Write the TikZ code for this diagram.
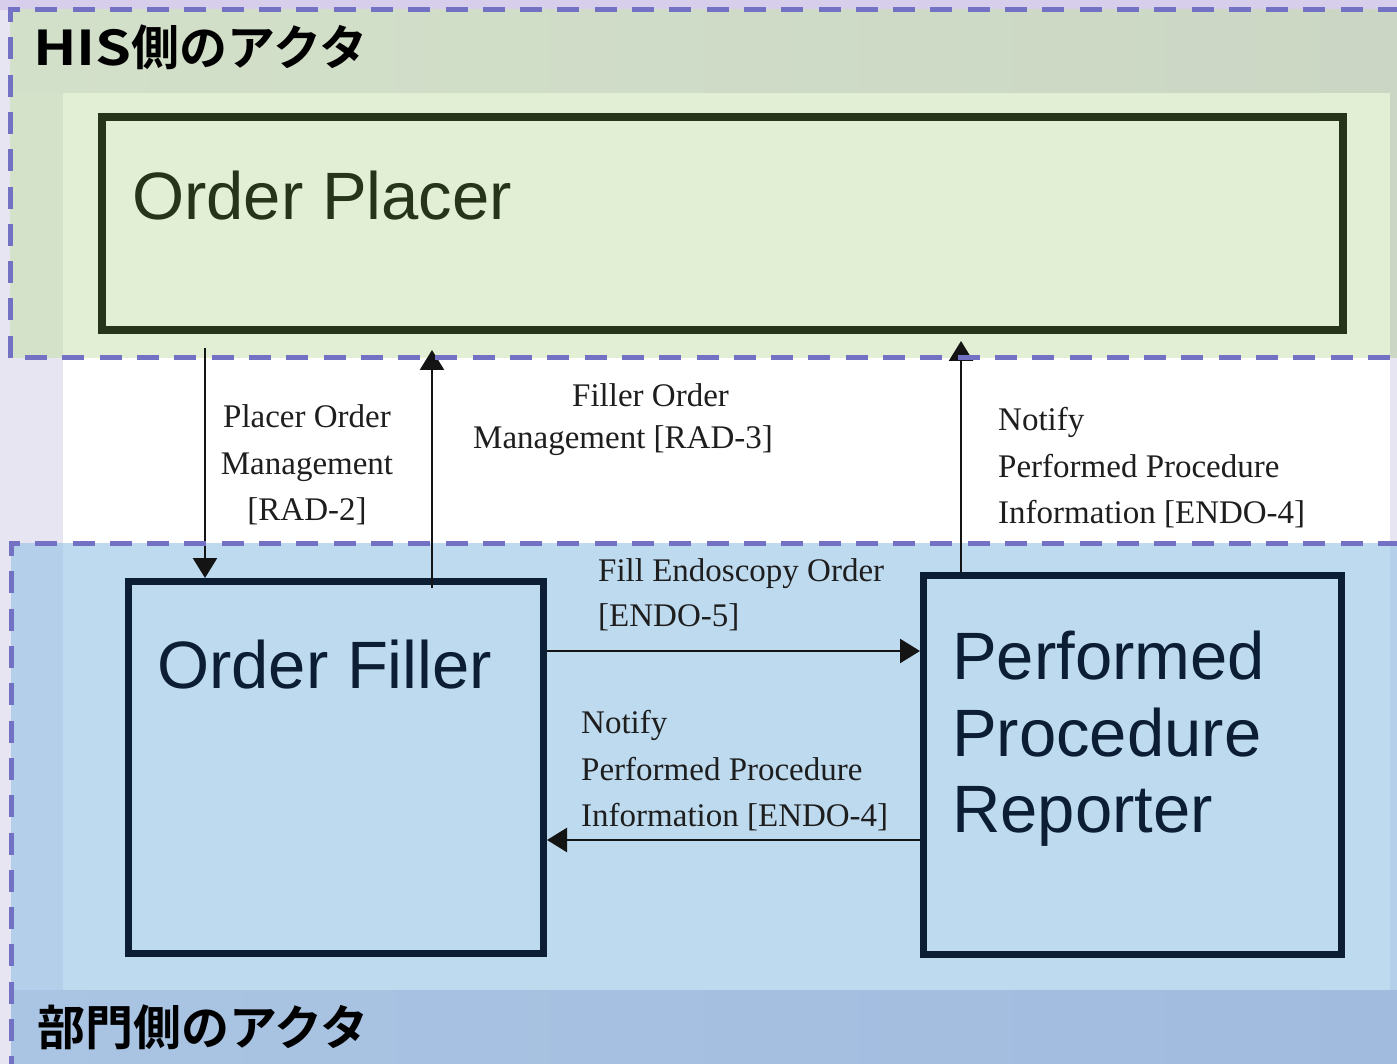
\documentclass[tikz,border=0pt]{standalone}
\usepackage{fontspec}
\setmainfont{Liberation Serif}
\newfontfamily\boxfont{Liberation Sans}
\newfontfamily\jpfont{Noto Sans CJK JP Bold}
\usetikzlibrary{arrows.meta,calc}

\definecolor{lavender}{HTML}{E7E5F2}
\definecolor{lavtop}{HTML}{D6CEEA}
\definecolor{bandL}{HTML}{D3E0C9}
\definecolor{bandM}{HTML}{BFCBBC}
\definecolor{bandR}{HTML}{CBD7C4}
\definecolor{greenpanel}{HTML}{E2EFD4}
\definecolor{greenedge}{HTML}{D4E2CA}
\definecolor{bluepanel}{HTML}{BEDAEF}
\definecolor{blueedge}{HTML}{B4CFE9}
\definecolor{blueL}{HTML}{AAC4E3}
\definecolor{blueR}{HTML}{A1BBDF}
\definecolor{dashcol}{HTML}{7371C3}
\definecolor{placerdark}{HTML}{26341A}
\definecolor{navydark}{HTML}{0C1E33}
\definecolor{labelgray}{HTML}{1E1E1E}

\tikzset{
  zoneline/.style={draw=dashcol, line width=5pt, dash pattern=on 22pt off 15.3pt},
  placerbox/.style={draw=placerdark, line width=8pt, inner sep=0pt, fill=none},
  deptbox/.style={draw=navydark, line width=7pt, inner sep=0pt, fill=none},
  actorname/.style={inner sep=0pt, font=\boxfont\fontsize{67}{76.5}\selectfont, align=left},
  msg/.style={inner sep=0pt, text=labelgray, font=\fontsize{33}{46.5}\selectfont},
  flow/.style={line width=2.5pt, draw=black!92, -{Triangle[length=20pt,width=24pt]}},
  zonetitle/.style={inner sep=0pt, font=\jpfont\fontsize{48}{48}\selectfont, text=black}
}

\begin{document}
\begin{tikzpicture}[x=1pt,y=-1pt]
\useasboundingbox (0,0) rectangle (1397,1064);
\clip (0,0) rectangle (1397,1064);

% page background
\fill[lavender] (0,0) rectangle (1397,1064);
\fill[lavtop] (0,0) rectangle (1397,10);

% HIS zone
\shade[left color=bandL, middle color=bandM, right color=bandR] (10,10) rectangle (1397,93);
\fill[greenedge] (10,93) rectangle (63,358);
\fill[bandR] (1390,93) rectangle (1397,358);
\fill[greenpanel] (63,93) rectangle (1390,358);

% gap between the zones
\fill[white] (63,358) rectangle (1390,543);

% department zone
\fill[blueedge] (11,543) rectangle (1397,1064);
\fill[bluepanel] (63,543) rectangle (1390,990);
\shade[left color=blueL, right color=blueR] (11,990) rectangle (1397,1064);

% actors
\node[placerbox, minimum width=1241pt, minimum height=213pt] (placer) at (722.5,223.5) {};
\node[deptbox, minimum width=415pt, minimum height=372pt] (filler) at (336,767.5) {};
\node[deptbox, minimum width=418pt, minimum height=379pt] (reporter) at (1132.5,765) {};

\node[actorname, text=placerdark, anchor=base west] (placername) at (132,220) {Order Placer};
\node[actorname, text=navydark, anchor=base west] (fillername) at (157,688) {Order Filler};
\node[actorname, text=navydark, anchor=north west] (reportername) at (952,631) {Performed\\Procedure\\Reporter};

% transactions
\coordinate (rad2s) at ($(placer.south)+(-517.5,14)$);
\draw[flow] (rad2s) -- (rad2s |- filler.north);

\coordinate (rad3s) at ($(filler.north)+(96,10)$);
\coordinate (rad3e) at ($(placer.south)+(0,16)$);
\draw[flow] (rad3s) -- (rad3s |- rad3e);

\coordinate (endo4up) at ($(reporter.north)+(-171.5,0)$);
\coordinate (endo4upe) at ($(placer.south)+(0,7)$);
\draw[flow] (endo4up) -- (endo4up |- endo4upe);

\coordinate (endo5s) at ($(filler.east)+(0,-116.5)$);
\draw[flow] (endo5s) -- (endo5s -| reporter.west);

\coordinate (endo4s) at ($(reporter.west)+(0,75)$);
\draw[flow] (endo4s) -- (endo4s -| filler.east);

% transaction labels
\node[msg, anchor=north, align=center] (rad2lbl) at (307,404.5) {Placer Order\\Management\\{[RAD-2]}};
\node[msg, anchor=north west, align=left, font=\fontsize{33}{42}\selectfont] (rad3lbl) at (473,383.5) {\hspace*{99pt}Filler Order\\Management [RAD-3]};
\node[msg, anchor=north west, align=left] (endo4uplbl) at (998,407.5) {Notify\\Performed Procedure\\Information [ENDO-4]};
\node[msg, anchor=north west, align=left, font=\fontsize{33}{45}\selectfont] (endo5lbl) at (598,558.5) {Fill Endoscopy Order\\{[ENDO-5]}};
\node[msg, anchor=north west, align=left] (endo4lbl) at (581,710.5) {Notify\\Performed Procedure\\Information [ENDO-4]};

% zone borders
\draw[zoneline] (1400,10) -- (10,10) -- (10,358) -- (1400,358);
\draw[zoneline] (1400,543) -- (11,543) -- (11,1070);

% zone titles
\node[zonetitle, anchor=base west] (histitle) at (33,66) {\scalebox{1.2}[1]{HIS}側のアクタ};
\node[zonetitle, anchor=base west] (depttitle) at (37,1045) {部門側のアクタ};
\end{tikzpicture}
\end{document}
